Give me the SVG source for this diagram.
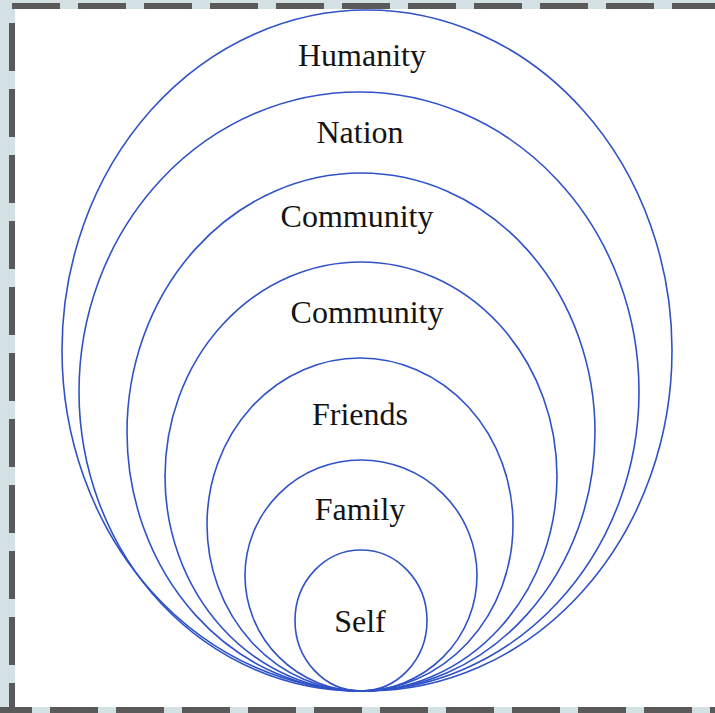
<svg xmlns="http://www.w3.org/2000/svg" width="715" height="713" viewBox="0 0 715 713">
  <style>
    .ring { fill: none; stroke: #2f52c8; stroke-width: 1.6; }
    .lbl { font-family: "Liberation Serif", "Times New Roman", serif; font-size: 32px; fill: #141414; text-anchor: middle; }
    .frame { stroke: #5a5a5a; stroke-width: 6; stroke-dasharray: 48 18; fill: none; }
  </style>
  <rect x="0" y="0" width="715" height="713" fill="#d3e0e4"/>
  <rect x="15" y="9" width="700" height="698" fill="#ffffff"/>
  <g id="frame">
    <line class="frame" x1="12" y1="6" x2="715" y2="6"/>
    <line class="frame" x1="12" y1="23" x2="12" y2="713"/>
    <line class="frame" x1="-16" y1="710" x2="715" y2="710"/>
  </g>
  <g id="humanity">
    <ellipse class="ring" cx="367" cy="350.5" rx="305" ry="340.5"/>
    <text class="lbl" x="362" y="66">Humanity</text>
  </g>
  <g id="nation">
    <ellipse class="ring" cx="359" cy="391.5" rx="280" ry="299.5"/>
    <text class="lbl" x="360" y="143">Nation</text>
  </g>
  <g id="community-1">
    <ellipse class="ring" cx="361" cy="432" rx="234" ry="259"/>
    <text class="lbl" x="357" y="227">Community</text>
  </g>
  <g id="community-2">
    <ellipse class="ring" cx="361" cy="476.5" rx="196" ry="214.5"/>
    <text class="lbl" x="367" y="323">Community</text>
  </g>
  <g id="friends">
    <ellipse class="ring" cx="360" cy="524.5" rx="153" ry="166.5"/>
    <text class="lbl" x="360" y="425">Friends</text>
  </g>
  <g id="family">
    <ellipse class="ring" cx="361" cy="575.5" rx="116" ry="115.5"/>
    <text class="lbl" x="360" y="520">Family</text>
  </g>
  <g id="self">
    <ellipse class="ring" cx="361" cy="620.5" rx="66" ry="70.5"/>
    <text class="lbl" x="360" y="632">Self</text>
  </g>
</svg>
